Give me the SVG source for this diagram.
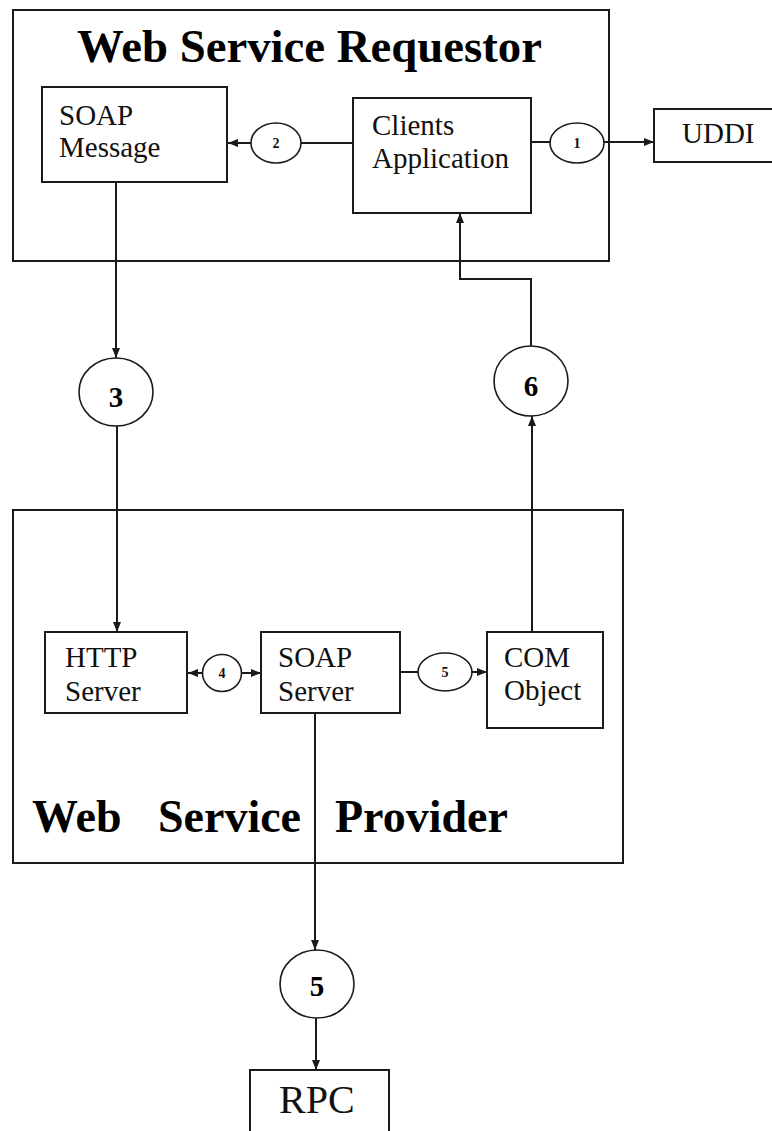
<svg xmlns="http://www.w3.org/2000/svg" width="772" height="1131" viewBox="0 0 772 1131">
  <style>
    .box { fill: #ffffff; stroke: #1a1a1a; stroke-width: 2; }
    .frame { fill: none; stroke: #1a1a1a; stroke-width: 2; }
    .bubble { fill: #ffffff; stroke: #1a1a1a; stroke-width: 1.6; }
    .wire { fill: none; stroke: #1a1a1a; stroke-width: 2; }
    .arrow { marker-end: url(#head); }
    .lbl { font-family: "Liberation Serif", "Times New Roman", serif; font-size: 29px; fill: #111111; }
    .title { font-family: "Liberation Serif", "Times New Roman", serif; font-size: 46px; font-weight: bold; fill: #000000; }
    .num-s { font-family: "Liberation Serif", "Times New Roman", serif; font-size: 14px; font-weight: bold; fill: #111111; text-anchor: middle; }
    .num-l { font-family: "Liberation Serif", "Times New Roman", serif; font-size: 29px; font-weight: bold; fill: #000000; text-anchor: middle; }
  </style>
  <defs>
    <marker id="head" viewBox="0 0 10 8" refX="10" refY="4" markerWidth="10" markerHeight="8" markerUnits="userSpaceOnUse" orient="auto">
      <path d="M0,0 L10,4 L0,8 z" fill="#1a1a1a"/>
    </marker>
  </defs>
  <rect width="772" height="1131" fill="#ffffff"/>

  <!-- Requestor container -->
  <g id="requestor">
    <rect class="frame" x="13" y="10" width="596" height="251"/>
    <text class="title" x="77" y="62" textLength="465" lengthAdjust="spacingAndGlyphs">Web Service Requestor</text>
  </g>

  <!-- Provider container -->
  <g id="provider">
    <rect class="frame" x="13" y="510" width="610" height="353"/>
    <text class="title" y="832"><tspan x="32">Web</tspan><tspan x="158">Service</tspan><tspan x="335">Provider</tspan></text>
  </g>

  <!-- Connectors -->
  <g id="connectors">
    <!-- step 1: client to UDDI -->
    <line class="wire" x1="531" y1="142" x2="550" y2="142"/>
    <line class="wire arrow" x1="604" y1="142" x2="654" y2="142"/>
    <!-- step 2: client to SOAP message -->
    <line class="wire" x1="353" y1="143" x2="301" y2="143"/>
    <line class="wire arrow" x1="251" y1="143" x2="228" y2="143"/>
    <!-- step 3: message to HTTP server -->
    <line class="wire arrow" x1="116" y1="182" x2="116" y2="358"/>
    <line class="wire arrow" x1="117" y1="426" x2="117" y2="632"/>
    <!-- step 4: HTTP server and SOAP server -->
    <line class="wire arrow" x1="203" y1="673" x2="188" y2="673"/>
    <line class="wire arrow" x1="242" y1="673" x2="261" y2="673"/>
    <!-- step 5: SOAP server to COM object -->
    <line class="wire" x1="400" y1="672" x2="418" y2="672"/>
    <line class="wire arrow" x1="472" y1="672" x2="487" y2="672"/>
    <!-- step 5: SOAP server to RPC -->
    <line class="wire arrow" x1="315" y1="713" x2="315" y2="950"/>
    <line class="wire arrow" x1="316" y1="1018" x2="316" y2="1070"/>
    <!-- step 6: COM object back to client -->
    <line class="wire arrow" x1="532" y1="632" x2="532" y2="416"/>
    <polyline class="wire arrow" points="531,346 531,279 460,279 460,213"/>
  </g>

  <!-- Nodes -->
  <g id="soap-message">
    <rect class="box" x="42" y="87" width="185" height="95"/>
    <text class="lbl" x="59" y="125">SOAP</text>
    <text class="lbl" x="59" y="157">Message</text>
  </g>

  <g id="clients-application">
    <rect class="box" x="353" y="98" width="178" height="115"/>
    <text class="lbl" x="372" y="135">Clients</text>
    <text class="lbl" x="372" y="168">Application</text>
  </g>

  <g id="uddi">
    <rect class="box" x="654" y="109" width="130" height="53"/>
    <text class="lbl" x="682" y="143">UDDI</text>
  </g>

  <g id="http-server">
    <rect class="box" x="45" y="632" width="142" height="81"/>
    <text class="lbl" x="65" y="667">HTTP</text>
    <text class="lbl" x="65" y="701">Server</text>
  </g>

  <g id="soap-server">
    <rect class="box" x="261" y="632" width="139" height="81"/>
    <text class="lbl" x="278" y="667">SOAP</text>
    <text class="lbl" x="278" y="701">Server</text>
  </g>

  <g id="com-object">
    <rect class="box" x="487" y="632" width="116" height="96"/>
    <text class="lbl" x="504" y="667">COM</text>
    <text class="lbl" x="504" y="700">Object</text>
  </g>

  <g id="rpc">
    <rect class="box" x="250" y="1070" width="139" height="80"/>
    <text class="lbl" x="279" y="1113" style="font-size:40px">RPC</text>
  </g>

  <!-- Step markers -->
  <g id="step-1">
    <ellipse class="bubble" cx="577" cy="143" rx="27" ry="20"/>
    <text class="num-s" x="577" y="148">1</text>
  </g>
  <g id="step-2">
    <ellipse class="bubble" cx="276" cy="143" rx="25" ry="20"/>
    <text class="num-s" x="276" y="148">2</text>
  </g>
  <g id="step-3">
    <ellipse class="bubble" cx="116" cy="392" rx="37" ry="34"/>
    <text class="num-l" x="116" y="407">3</text>
  </g>
  <g id="step-6">
    <ellipse class="bubble" cx="531" cy="381" rx="37" ry="35"/>
    <text class="num-l" x="531" y="396">6</text>
  </g>
  <g id="step-4">
    <ellipse class="bubble" cx="222" cy="673" rx="19.5" ry="18.5"/>
    <text class="num-s" x="222" y="678">4</text>
  </g>
  <g id="step-5a">
    <ellipse class="bubble" cx="445" cy="672" rx="27" ry="19"/>
    <text class="num-s" x="445" y="677">5</text>
  </g>
  <g id="step-5b">
    <ellipse class="bubble" cx="317" cy="984" rx="37" ry="34"/>
    <text class="num-l" x="317" y="996">5</text>
  </g>
</svg>
